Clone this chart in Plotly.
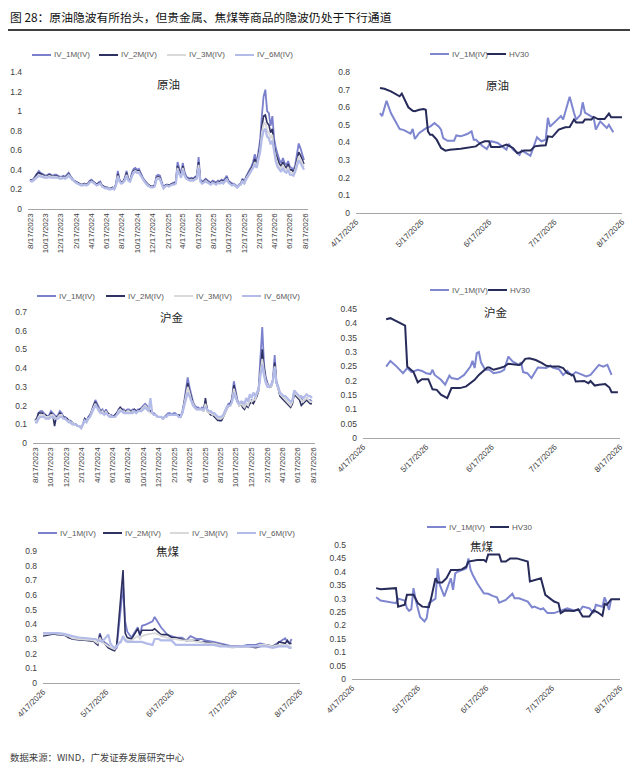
import pandas as pd
import plotly.graph_objects as go

# the page body adds an 8px margin, so the figure is drawn 8px in from the corner
OFF = 8
W, H = 630, 762

# ---------------- data ----------------
weeks = pd.date_range("2023-08-17", periods=157, freq="7D")
long_ticks = ["8/17/2023", "10/17/2023", "12/17/2023", "2/17/2024", "4/17/2024",
              "6/17/2024", "8/17/2024", "10/17/2024", "12/17/2024", "2/17/2025",
              "4/17/2025", "6/17/2025", "8/17/2025", "10/17/2025", "12/17/2025",
              "2/17/2026", "4/17/2026", "6/17/2026", "8/17/2026"]
short_ticks = ["4/17/2026", "5/17/2026", "6/17/2026", "7/17/2026", "8/17/2026"]

left_names = ["IV_1M(IV)", "IV_2M(IV)", "IV_3M(IV)", "IV_6M(IV)"]
right_names = ["IV_1M(IV)", "HV30"]

# 原油 weekly implied vol
oil_iv1m = [0.30, 0.29, 0.31, 0.34, 0.37, 0.39, 0.37, 0.36, 0.35, 0.34, 0.35, 0.36, 0.35,
            0.34, 0.35, 0.35, 0.34, 0.33, 0.33, 0.34, 0.33, 0.35, 0.37, 0.34, 0.31, 0.29,
            0.28, 0.27, 0.26, 0.25, 0.25, 0.26, 0.25, 0.26, 0.29, 0.30, 0.28, 0.26, 0.25,
            0.27, 0.28, 0.24, 0.23, 0.22, 0.22, 0.21, 0.21, 0.22, 0.21, 0.26, 0.39, 0.30,
            0.27, 0.28, 0.32, 0.39, 0.31, 0.29, 0.37, 0.41, 0.42, 0.40, 0.41, 0.36, 0.33,
            0.30, 0.27, 0.25, 0.24, 0.23, 0.23, 0.25, 0.34, 0.35, 0.34, 0.27, 0.22, 0.24,
            0.25, 0.24, 0.25, 0.26, 0.27, 0.28, 0.48, 0.40, 0.35, 0.47, 0.38, 0.33, 0.32,
            0.31, 0.32, 0.31, 0.33, 0.34, 0.53, 0.30, 0.28, 0.29, 0.31, 0.29, 0.28, 0.27,
            0.29, 0.28, 0.27, 0.29, 0.28, 0.30, 0.29, 0.31, 0.34, 0.29, 0.27, 0.26, 0.26,
            0.24, 0.23, 0.25, 0.26, 0.31, 0.27, 0.33, 0.37, 0.40, 0.43, 0.48, 0.56, 0.47,
            0.58, 0.70, 0.95, 1.15, 1.22, 1.00, 0.98, 0.85, 0.95, 0.72, 0.62, 0.55, 0.50,
            0.47, 0.52, 0.47, 0.45, 0.49, 0.43, 0.42, 0.40, 0.45, 0.55, 0.67, 0.62, 0.55, 0.50]
oil_iv2m = [0.30, 0.29, 0.30, 0.33, 0.36, 0.37, 0.36, 0.35, 0.34, 0.33, 0.34, 0.35, 0.34,
            0.33, 0.34, 0.34, 0.33, 0.32, 0.32, 0.33, 0.32, 0.34, 0.36, 0.33, 0.30, 0.29,
            0.28, 0.27, 0.26, 0.25, 0.25, 0.26, 0.25, 0.26, 0.28, 0.29, 0.28, 0.26, 0.25,
            0.26, 0.27, 0.24, 0.23, 0.22, 0.22, 0.21, 0.21, 0.22, 0.21, 0.25, 0.36, 0.29,
            0.27, 0.28, 0.31, 0.37, 0.30, 0.29, 0.35, 0.39, 0.40, 0.39, 0.39, 0.35, 0.32,
            0.29, 0.27, 0.25, 0.24, 0.23, 0.23, 0.24, 0.32, 0.33, 0.32, 0.26, 0.22, 0.24,
            0.25, 0.24, 0.25, 0.26, 0.26, 0.27, 0.44, 0.38, 0.34, 0.44, 0.36, 0.32, 0.31,
            0.30, 0.31, 0.30, 0.32, 0.33, 0.48, 0.29, 0.27, 0.28, 0.30, 0.28, 0.27, 0.26,
            0.28, 0.27, 0.26, 0.28, 0.27, 0.29, 0.28, 0.29, 0.32, 0.28, 0.26, 0.25, 0.25,
            0.23, 0.22, 0.24, 0.25, 0.30, 0.26, 0.32, 0.35, 0.38, 0.41, 0.45, 0.51, 0.45,
            0.54, 0.64, 0.84, 0.95, 0.96, 0.88, 0.86, 0.78, 0.82, 0.64, 0.56, 0.50, 0.46,
            0.44, 0.48, 0.44, 0.42, 0.46, 0.40, 0.40, 0.38, 0.42, 0.50, 0.58, 0.55, 0.50, 0.46]
oil_iv3m = [0.29, 0.28, 0.30, 0.32, 0.34, 0.35, 0.34, 0.34, 0.33, 0.33, 0.33, 0.34, 0.33,
            0.33, 0.33, 0.33, 0.32, 0.32, 0.32, 0.32, 0.32, 0.33, 0.35, 0.33, 0.30, 0.28,
            0.27, 0.26, 0.25, 0.25, 0.24, 0.25, 0.25, 0.25, 0.27, 0.28, 0.27, 0.25, 0.24,
            0.25, 0.26, 0.23, 0.22, 0.21, 0.21, 0.21, 0.20, 0.21, 0.21, 0.24, 0.34, 0.28,
            0.26, 0.27, 0.30, 0.35, 0.29, 0.28, 0.34, 0.38, 0.39, 0.38, 0.38, 0.34, 0.31,
            0.28, 0.26, 0.24, 0.23, 0.22, 0.22, 0.23, 0.31, 0.32, 0.31, 0.25, 0.21, 0.23,
            0.24, 0.23, 0.24, 0.25, 0.25, 0.26, 0.42, 0.36, 0.33, 0.42, 0.35, 0.31, 0.30,
            0.29, 0.30, 0.29, 0.31, 0.32, 0.45, 0.28, 0.26, 0.27, 0.29, 0.27, 0.26, 0.25,
            0.27, 0.26, 0.25, 0.27, 0.26, 0.28, 0.27, 0.28, 0.31, 0.27, 0.25, 0.24, 0.25,
            0.23, 0.22, 0.24, 0.25, 0.29, 0.26, 0.31, 0.34, 0.37, 0.39, 0.43, 0.48, 0.43,
            0.52, 0.60, 0.78, 0.87, 0.88, 0.80, 0.78, 0.72, 0.76, 0.60, 0.52, 0.46, 0.43,
            0.41, 0.45, 0.41, 0.39, 0.43, 0.37, 0.37, 0.36, 0.40, 0.47, 0.54, 0.51, 0.47, 0.43]
oil_iv6m = [0.29, 0.28, 0.29, 0.31, 0.33, 0.34, 0.33, 0.33, 0.32, 0.32, 0.32, 0.33, 0.32,
            0.32, 0.32, 0.32, 0.32, 0.31, 0.31, 0.32, 0.31, 0.32, 0.34, 0.32, 0.30, 0.28,
            0.27, 0.26, 0.25, 0.24, 0.24, 0.25, 0.24, 0.25, 0.27, 0.28, 0.27, 0.25, 0.24,
            0.25, 0.26, 0.23, 0.22, 0.21, 0.21, 0.20, 0.20, 0.21, 0.20, 0.24, 0.33, 0.28,
            0.26, 0.27, 0.29, 0.34, 0.29, 0.28, 0.33, 0.37, 0.38, 0.37, 0.37, 0.34, 0.31,
            0.28, 0.26, 0.24, 0.23, 0.22, 0.22, 0.23, 0.30, 0.31, 0.30, 0.25, 0.21, 0.23,
            0.24, 0.23, 0.24, 0.25, 0.25, 0.26, 0.40, 0.35, 0.32, 0.40, 0.34, 0.31, 0.30,
            0.29, 0.29, 0.29, 0.30, 0.31, 0.42, 0.28, 0.26, 0.27, 0.28, 0.27, 0.26, 0.25,
            0.27, 0.26, 0.25, 0.27, 0.26, 0.27, 0.26, 0.28, 0.30, 0.27, 0.25, 0.24, 0.25,
            0.23, 0.22, 0.24, 0.25, 0.28, 0.26, 0.30, 0.33, 0.36, 0.38, 0.42, 0.46, 0.42,
            0.50, 0.58, 0.72, 0.80, 0.82, 0.74, 0.72, 0.66, 0.70, 0.56, 0.48, 0.43, 0.40,
            0.38, 0.42, 0.38, 0.37, 0.40, 0.35, 0.35, 0.34, 0.38, 0.44, 0.50, 0.47, 0.44, 0.40]

# 沪金 weekly implied vol
gold_iv1m = [0.12, 0.13, 0.16, 0.17, 0.17, 0.16, 0.15, 0.14, 0.15, 0.17, 0.16, 0.15, 0.14,
             0.15, 0.17, 0.16, 0.14, 0.14, 0.13, 0.12, 0.12, 0.11, 0.10, 0.10, 0.09, 0.09,
             0.08, 0.10, 0.13, 0.12, 0.14, 0.15, 0.18, 0.21, 0.23, 0.21, 0.19, 0.17, 0.18,
             0.16, 0.18, 0.16, 0.15, 0.15, 0.14, 0.15, 0.16, 0.18, 0.19, 0.18, 0.18, 0.17,
             0.18, 0.18, 0.17, 0.18, 0.18, 0.17, 0.18, 0.18, 0.19, 0.20, 0.21, 0.20, 0.18,
             0.17, 0.16, 0.16, 0.15, 0.14, 0.14, 0.14, 0.13, 0.14, 0.15, 0.16, 0.16, 0.15,
             0.16, 0.16, 0.15, 0.15, 0.14, 0.17, 0.22, 0.28, 0.35, 0.30, 0.25, 0.22, 0.20,
             0.19, 0.19, 0.18, 0.19, 0.18, 0.22, 0.18, 0.17, 0.16, 0.16, 0.15, 0.14, 0.13,
             0.12, 0.12, 0.14, 0.17, 0.19, 0.21, 0.21, 0.24, 0.33, 0.27, 0.23, 0.21, 0.22,
             0.20, 0.19, 0.21, 0.20, 0.22, 0.23, 0.22, 0.24, 0.26, 0.30, 0.45, 0.62, 0.42,
             0.35, 0.32, 0.30, 0.31, 0.34, 0.47, 0.33, 0.30, 0.26, 0.25, 0.24, 0.23, 0.22,
             0.21, 0.20, 0.22, 0.28, 0.26, 0.25, 0.24, 0.24, 0.22, 0.23, 0.24, 0.23, 0.23, 0.22]
gold_iv2m = [0.12, 0.13, 0.16, 0.16, 0.16, 0.15, 0.15, 0.14, 0.14, 0.16, 0.15, 0.09, 0.14,
             0.14, 0.16, 0.15, 0.14, 0.13, 0.13, 0.12, 0.11, 0.11, 0.10, 0.10, 0.09, 0.09,
             0.08, 0.10, 0.13, 0.12, 0.13, 0.15, 0.17, 0.20, 0.22, 0.20, 0.18, 0.17, 0.17,
             0.16, 0.17, 0.16, 0.15, 0.14, 0.14, 0.15, 0.16, 0.17, 0.19, 0.18, 0.17, 0.17,
             0.17, 0.17, 0.17, 0.17, 0.18, 0.17, 0.17, 0.18, 0.18, 0.19, 0.20, 0.19, 0.18,
             0.17, 0.16, 0.15, 0.15, 0.14, 0.14, 0.14, 0.13, 0.14, 0.14, 0.15, 0.15, 0.15,
             0.15, 0.15, 0.15, 0.15, 0.14, 0.16, 0.21, 0.26, 0.32, 0.28, 0.24, 0.21, 0.19,
             0.18, 0.18, 0.18, 0.18, 0.17, 0.24, 0.17, 0.16, 0.15, 0.15, 0.14, 0.13, 0.12,
             0.12, 0.12, 0.14, 0.16, 0.18, 0.20, 0.21, 0.23, 0.31, 0.26, 0.22, 0.20, 0.21,
             0.19, 0.18, 0.20, 0.19, 0.21, 0.22, 0.21, 0.23, 0.25, 0.28, 0.40, 0.50, 0.40,
             0.34, 0.31, 0.30, 0.30, 0.33, 0.43, 0.32, 0.29, 0.25, 0.24, 0.23, 0.22, 0.21,
             0.20, 0.19, 0.21, 0.26, 0.25, 0.24, 0.23, 0.20, 0.21, 0.22, 0.23, 0.22, 0.21, 0.21]
gold_iv3m = [0.12, 0.12, 0.14, 0.15, 0.15, 0.15, 0.14, 0.14, 0.14, 0.15, 0.15, 0.14, 0.13,
             0.14, 0.15, 0.15, 0.13, 0.13, 0.12, 0.12, 0.11, 0.11, 0.10, 0.10, 0.09, 0.09,
             0.08, 0.10, 0.12, 0.12, 0.13, 0.14, 0.17, 0.19, 0.21, 0.19, 0.18, 0.16, 0.17,
             0.15, 0.17, 0.15, 0.15, 0.14, 0.14, 0.14, 0.15, 0.17, 0.18, 0.17, 0.17, 0.16,
             0.17, 0.17, 0.16, 0.17, 0.17, 0.16, 0.17, 0.17, 0.18, 0.19, 0.20, 0.19, 0.17,
             0.16, 0.16, 0.15, 0.15, 0.14, 0.14, 0.14, 0.13, 0.14, 0.14, 0.15, 0.15, 0.15,
             0.15, 0.15, 0.15, 0.14, 0.14, 0.16, 0.21, 0.25, 0.30, 0.27, 0.23, 0.21, 0.19,
             0.18, 0.18, 0.18, 0.18, 0.17, 0.21, 0.17, 0.16, 0.16, 0.15, 0.15, 0.14, 0.13,
             0.13, 0.13, 0.14, 0.16, 0.18, 0.20, 0.20, 0.22, 0.29, 0.25, 0.22, 0.20, 0.21,
             0.20, 0.19, 0.21, 0.20, 0.23, 0.22, 0.23, 0.23, 0.26, 0.28, 0.38, 0.45, 0.38,
             0.33, 0.31, 0.30, 0.30, 0.33, 0.41, 0.32, 0.29, 0.26, 0.25, 0.24, 0.23, 0.22,
             0.21, 0.20, 0.22, 0.27, 0.26, 0.25, 0.24, 0.23, 0.22, 0.23, 0.24, 0.23, 0.22, 0.22]
gold_iv6m = [0.11, 0.11, 0.13, 0.14, 0.14, 0.14, 0.13, 0.13, 0.13, 0.14, 0.14, 0.13, 0.13,
             0.13, 0.14, 0.14, 0.13, 0.13, 0.12, 0.11, 0.11, 0.10, 0.10, 0.10, 0.09, 0.09,
             0.08, 0.10, 0.12, 0.11, 0.13, 0.14, 0.16, 0.18, 0.20, 0.19, 0.17, 0.16, 0.16,
             0.15, 0.16, 0.15, 0.14, 0.14, 0.14, 0.14, 0.15, 0.16, 0.17, 0.17, 0.16, 0.16,
             0.16, 0.16, 0.16, 0.16, 0.17, 0.16, 0.17, 0.17, 0.17, 0.18, 0.19, 0.18, 0.17,
             0.24, 0.16, 0.15, 0.15, 0.14, 0.14, 0.14, 0.13, 0.14, 0.14, 0.15, 0.15, 0.15,
             0.15, 0.15, 0.15, 0.14, 0.14, 0.16, 0.20, 0.24, 0.27, 0.25, 0.22, 0.20, 0.19,
             0.18, 0.18, 0.18, 0.18, 0.18, 0.19, 0.18, 0.17, 0.17, 0.16, 0.16, 0.15, 0.14,
             0.14, 0.14, 0.15, 0.17, 0.19, 0.20, 0.20, 0.22, 0.27, 0.24, 0.22, 0.21, 0.22,
             0.22, 0.21, 0.24, 0.22, 0.26, 0.24, 0.27, 0.25, 0.27, 0.29, 0.36, 0.42, 0.36,
             0.32, 0.30, 0.30, 0.31, 0.33, 0.40, 0.32, 0.30, 0.27, 0.26, 0.25, 0.25, 0.24,
             0.23, 0.22, 0.23, 0.28, 0.27, 0.26, 0.25, 0.25, 0.24, 0.25, 0.26, 0.25, 0.25, 0.24]

# 焦煤 implied vol, Apr-Aug 2026
coal_dates = ["2026-04-17", "2026-04-20", "2026-04-22", "2026-04-24", "2026-04-27", "2026-04-29",
              "2026-05-01", "2026-05-04", "2026-05-06", "2026-05-08", "2026-05-11", "2026-05-12",
              "2026-05-13", "2026-05-14", "2026-05-15", "2026-05-18", "2026-05-19", "2026-05-20",
              "2026-05-21", "2026-05-22", "2026-05-23", "2026-05-24", "2026-05-25", "2026-05-26",
              "2026-05-27", "2026-05-29", "2026-06-01", "2026-06-02", "2026-06-03", "2026-06-05",
              "2026-06-08", "2026-06-09", "2026-06-11", "2026-06-12", "2026-06-15", "2026-06-17",
              "2026-06-19", "2026-06-22", "2026-06-24", "2026-06-26", "2026-06-29", "2026-07-01",
              "2026-07-03", "2026-07-07", "2026-07-10", "2026-07-14", "2026-07-16", "2026-07-20",
              "2026-07-23", "2026-07-27", "2026-07-29", "2026-08-01", "2026-08-04", "2026-08-06",
              "2026-08-07", "2026-08-10", "2026-08-11", "2026-08-12", "2026-08-13"]
coal_iv1m = [0.33, 0.34, 0.34, 0.335, 0.33, 0.32, 0.30, 0.30, 0.295, 0.29,
             0.29, 0.27, 0.26, 0.34, 0.29, 0.26, 0.24, 0.23, 0.225, 0.24,
             0.38, 0.52, 0.66, 0.42, 0.35, 0.31, 0.38, 0.32, 0.39, 0.40,
             0.42, 0.45, 0.40, 0.38, 0.33, 0.32, 0.31, 0.31, 0.29, 0.32,
             0.30, 0.30, 0.29, 0.28, 0.27, 0.26, 0.25, 0.25, 0.26, 0.26,
             0.27, 0.26, 0.25, 0.27, 0.28, 0.305, 0.28, 0.27, 0.30]
coal_iv2m = [0.32, 0.33, 0.335, 0.33, 0.33, 0.31, 0.30, 0.295, 0.29, 0.29,
             0.285, 0.27, 0.26, 0.33, 0.29, 0.24, 0.23, 0.225, 0.22, 0.26,
             0.43, 0.60, 0.77, 0.34, 0.31, 0.30, 0.37, 0.33, 0.36, 0.36,
             0.36, 0.37, 0.34, 0.33, 0.33, 0.31, 0.31, 0.30, 0.29, 0.29,
             0.29, 0.28, 0.28, 0.27, 0.26, 0.25, 0.25, 0.25, 0.25, 0.24,
             0.25, 0.26, 0.25, 0.26, 0.28, 0.27, 0.29, 0.27, 0.27]
coal_iv3m = [0.33, 0.335, 0.34, 0.335, 0.33, 0.32, 0.305, 0.30, 0.30, 0.295,
             0.29, 0.28, 0.27, 0.31, 0.28, 0.25, 0.24, 0.235, 0.23, 0.25,
             0.27, 0.29, 0.31, 0.30, 0.29, 0.29, 0.32, 0.30, 0.32, 0.33,
             0.34, 0.34, 0.33, 0.32, 0.31, 0.30, 0.30, 0.29, 0.29, 0.29,
             0.28, 0.28, 0.27, 0.27, 0.26, 0.25, 0.24, 0.25, 0.25, 0.25,
             0.26, 0.26, 0.25, 0.26, 0.26, 0.26, 0.26, 0.25, 0.25]
coal_iv6m = [0.34, 0.34, 0.345, 0.34, 0.335, 0.33, 0.32, 0.31, 0.31, 0.305,
             0.30, 0.30, 0.29, 0.29, 0.28, 0.33, 0.27, 0.25, 0.24, 0.25,
             0.27, 0.28, 0.32, 0.29, 0.28, 0.28, 0.28, 0.28, 0.28, 0.27,
             0.26, 0.30, 0.30, 0.29, 0.29, 0.29, 0.26, 0.26, 0.26, 0.26,
             0.26, 0.26, 0.255, 0.26, 0.25, 0.25, 0.25, 0.25, 0.25, 0.25,
             0.25, 0.25, 0.24, 0.25, 0.25, 0.25, 0.25, 0.24, 0.24]

# right column: IV_1M vs HV30
oil_iv_dates = ["2026-04-28", "2026-04-29", "2026-05-01", "2026-05-03", "2026-05-07", "2026-05-09",
                "2026-05-12", "2026-05-13", "2026-05-14", "2026-05-16", "2026-05-19", "2026-05-21",
                "2026-05-23", "2026-05-25", "2026-05-26", "2026-05-27", "2026-05-29", "2026-06-01",
                "2026-06-02", "2026-06-04", "2026-06-07", "2026-06-09", "2026-06-10", "2026-06-11",
                "2026-06-14", "2026-06-16", "2026-06-18", "2026-06-21", "2026-06-23", "2026-06-25",
                "2026-06-26", "2026-06-28", "2026-07-01", "2026-07-02", "2026-07-04", "2026-07-06",
                "2026-07-09", "2026-07-11", "2026-07-13", "2026-07-14", "2026-07-15", "2026-07-18",
                "2026-07-20", "2026-07-21", "2026-07-24", "2026-07-26", "2026-07-27", "2026-07-29",
                "2026-07-30", "2026-07-31", "2026-08-02", "2026-08-04", "2026-08-05", "2026-08-07",
                "2026-08-10", "2026-08-11", "2026-08-13"]
oil_iv_vals = [0.567, 0.55, 0.637, 0.567, 0.477, 0.47, 0.45, 0.477, 0.42, 0.454,
               0.48, 0.49, 0.51, 0.49, 0.473, 0.425, 0.41, 0.41, 0.44, 0.435,
               0.448, 0.463, 0.416, 0.416, 0.38, 0.363, 0.407, 0.397, 0.378, 0.36,
               0.393, 0.36, 0.33, 0.355, 0.34, 0.325, 0.43, 0.407, 0.416, 0.54,
               0.49, 0.526, 0.55, 0.53, 0.66, 0.567, 0.53, 0.558, 0.628, 0.57,
               0.554, 0.54, 0.473, 0.52, 0.482, 0.50, 0.458]
oil_hv_dates = ["2026-04-28", "2026-04-30", "2026-05-03", "2026-05-07", "2026-05-08", "2026-05-11",
                "2026-05-13", "2026-05-14", "2026-05-16", "2026-05-18", "2026-05-19", "2026-05-20",
                "2026-05-21", "2026-05-22", "2026-05-24", "2026-05-26", "2026-05-28", "2026-05-30",
                "2026-06-04", "2026-06-08", "2026-06-11", "2026-06-13", "2026-06-15", "2026-06-17",
                "2026-06-18", "2026-06-22", "2026-06-23", "2026-06-25", "2026-06-28", "2026-06-30",
                "2026-07-01", "2026-07-03", "2026-07-06", "2026-07-08", "2026-07-10", "2026-07-13",
                "2026-07-14", "2026-07-16", "2026-07-19", "2026-07-22", "2026-07-24", "2026-07-26",
                "2026-07-27", "2026-07-30", "2026-07-31", "2026-08-03", "2026-08-04", "2026-08-06",
                "2026-08-09", "2026-08-11", "2026-08-12", "2026-08-17"]
oil_hv_vals = [0.709, 0.705, 0.69, 0.662, 0.677, 0.60, 0.58, 0.577, 0.586, 0.59,
               0.586, 0.463, 0.444, 0.444, 0.416, 0.369, 0.354, 0.359, 0.365, 0.374,
               0.378, 0.397, 0.407, 0.407, 0.374, 0.374, 0.378, 0.388, 0.369, 0.34,
               0.344, 0.354, 0.354, 0.378, 0.382, 0.384, 0.435, 0.431, 0.473, 0.486,
               0.488, 0.53, 0.514, 0.514, 0.53, 0.53, 0.545, 0.533, 0.533, 0.564,
               0.543, 0.543]

gold_iv_dates = ["2026-04-28", "2026-04-30", "2026-05-03", "2026-05-06", "2026-05-08", "2026-05-10",
                 "2026-05-13", "2026-05-15", "2026-05-17", "2026-05-19", "2026-05-20", "2026-05-21",
                 "2026-05-24", "2026-05-26", "2026-05-28", "2026-05-29", "2026-06-01", "2026-06-03",
                 "2026-06-04", "2026-06-07", "2026-06-08", "2026-06-09", "2026-06-10", "2026-06-11",
                 "2026-06-12", "2026-06-14", "2026-06-16", "2026-06-18", "2026-06-21", "2026-06-23",
                 "2026-06-25", "2026-06-27", "2026-06-30", "2026-07-01", "2026-07-02", "2026-07-04",
                 "2026-07-06", "2026-07-09", "2026-07-11", "2026-07-13", "2026-07-15", "2026-07-16",
                 "2026-07-19", "2026-07-21", "2026-07-23", "2026-07-25", "2026-07-27", "2026-08-01",
                 "2026-08-03", "2026-08-07", "2026-08-09", "2026-08-11", "2026-08-13"]
gold_iv_vals = [0.249, 0.269, 0.249, 0.226, 0.244, 0.23, 0.238, 0.234, 0.226, 0.223,
                0.238, 0.22, 0.203, 0.186, 0.218, 0.209, 0.205, 0.215, 0.22, 0.249,
                0.269, 0.244, 0.296, 0.30, 0.264, 0.238, 0.238, 0.226, 0.23, 0.238,
                0.284, 0.267, 0.255, 0.264, 0.23, 0.226, 0.209, 0.246, 0.246, 0.244,
                0.253, 0.246, 0.24, 0.22, 0.234, 0.218, 0.23, 0.215, 0.22, 0.255,
                0.249, 0.255, 0.22]
gold_hv_dates = ["2026-04-28", "2026-04-30", "2026-05-07", "2026-05-08", "2026-05-11", "2026-05-13",
                 "2026-05-15", "2026-05-18", "2026-05-20", "2026-05-22", "2026-05-24", "2026-05-27",
                 "2026-05-29", "2026-06-02", "2026-06-05", "2026-06-08", "2026-06-09", "2026-06-11",
                 "2026-06-15", "2026-06-16", "2026-06-18", "2026-06-21", "2026-06-23", "2026-06-25",
                 "2026-06-30", "2026-07-01", "2026-07-03", "2026-07-05", "2026-07-08", "2026-07-11",
                 "2026-07-13", "2026-07-16", "2026-07-19", "2026-07-21", "2026-07-23", "2026-07-26",
                 "2026-07-27", "2026-07-31", "2026-08-02", "2026-08-03", "2026-08-05", "2026-08-07",
                 "2026-08-10", "2026-08-12", "2026-08-13", "2026-08-16"]
gold_hv_vals = [0.414, 0.418, 0.392, 0.249, 0.23, 0.194, 0.205, 0.205, 0.17, 0.168,
                0.151, 0.139, 0.174, 0.174, 0.18, 0.197, 0.203, 0.22, 0.246, 0.246,
                0.238, 0.244, 0.249, 0.259, 0.255, 0.257, 0.276, 0.278, 0.272, 0.261,
                0.252, 0.249, 0.249, 0.244, 0.226, 0.218, 0.197, 0.199, 0.191, 0.199,
                0.183, 0.186, 0.188, 0.176, 0.16, 0.16]

coal_iv_dates = ["2026-04-28", "2026-04-29", "2026-04-30", "2026-05-07", "2026-05-08", "2026-05-11",
                 "2026-05-12", "2026-05-13", "2026-05-14", "2026-05-15", "2026-05-16", "2026-05-18",
                 "2026-05-20", "2026-05-21", "2026-05-22", "2026-05-25", "2026-05-26", "2026-05-27",
                 "2026-05-29", "2026-06-01", "2026-06-02", "2026-06-03", "2026-06-04", "2026-06-07",
                 "2026-06-08", "2026-06-09", "2026-06-10", "2026-06-11", "2026-06-13", "2026-06-16",
                 "2026-06-18", "2026-06-20", "2026-06-22", "2026-06-23", "2026-06-25", "2026-06-26",
                 "2026-06-29", "2026-06-30", "2026-07-02", "2026-07-06", "2026-07-08", "2026-07-09",
                 "2026-07-12", "2026-07-13", "2026-07-15", "2026-07-18", "2026-07-22", "2026-07-24",
                 "2026-07-27", "2026-07-30", "2026-07-31", "2026-08-03", "2026-08-05", "2026-08-06",
                 "2026-08-09", "2026-08-10", "2026-08-11", "2026-08-12", "2026-08-13"]
coal_iv_vals = [0.305, 0.30, 0.293, 0.283, 0.30, 0.293, 0.264, 0.254, 0.26, 0.339,
                0.295, 0.231, 0.215, 0.227, 0.283, 0.30, 0.413, 0.351, 0.308, 0.376,
                0.333, 0.394, 0.40, 0.409, 0.413, 0.45, 0.407, 0.388, 0.357, 0.32,
                0.318, 0.31, 0.305, 0.285, 0.293, 0.295, 0.318, 0.301, 0.301, 0.289,
                0.267, 0.27, 0.26, 0.264, 0.246, 0.246, 0.258, 0.264, 0.256, 0.258,
                0.27, 0.264, 0.246, 0.277, 0.27, 0.305, 0.283, 0.258, 0.298]
coal_hv_dates = ["2026-04-28", "2026-04-30", "2026-05-07", "2026-05-08", "2026-05-11", "2026-05-12",
                 "2026-05-15", "2026-05-17", "2026-05-19", "2026-05-22", "2026-05-23", "2026-05-25",
                 "2026-05-26", "2026-05-28", "2026-05-30", "2026-06-01", "2026-06-04", "2026-06-06",
                 "2026-06-08", "2026-06-09", "2026-06-13", "2026-06-16", "2026-06-17", "2026-06-18",
                 "2026-06-23", "2026-06-24", "2026-06-26", "2026-06-28", "2026-07-01", "2026-07-06",
                 "2026-07-07", "2026-07-12", "2026-07-14", "2026-07-16", "2026-07-18", "2026-07-20",
                 "2026-07-21", "2026-07-23", "2026-07-27", "2026-07-29", "2026-07-31", "2026-08-03",
                 "2026-08-05", "2026-08-07", "2026-08-09", "2026-08-10", "2026-08-11", "2026-08-13",
                 "2026-08-17"]
coal_hv_vals = [0.339, 0.335, 0.339, 0.27, 0.277, 0.314, 0.314, 0.283, 0.27, 0.268,
                0.30, 0.376, 0.36, 0.36, 0.376, 0.407, 0.407, 0.409, 0.419, 0.438,
                0.444, 0.444, 0.438, 0.465, 0.465, 0.438, 0.438, 0.45, 0.45, 0.438,
                0.364, 0.376, 0.314, 0.30, 0.289, 0.283, 0.246, 0.256, 0.254, 0.26,
                0.233, 0.233, 0.256, 0.248, 0.236, 0.28, 0.277, 0.298, 0.298]

# ---------------- style ----------------
left_colors = ["#7b80cc", "#2e3162", "#d9d9d9", "#b3bbe8"]
left_widths = [1.8, 1.6, 1.8, 2.2]
right_colors = ["#7e86d0", "#272b5a"]
FONT = "Liberation Sans, Arial, Noto Sans CJK SC"
CJK = "Noto Sans CJK SC, Liberation Sans"


def px_x(p):
    # page pixel -> paper fraction
    return (p - OFF) / W


def px_y(p):
    return 1 - (p - OFF) / H


fig = go.Figure()

left_panels = [
    ("x", "y", weeks, [oil_iv1m, oil_iv2m, oil_iv3m, oil_iv6m]),
    ("x3", "y3", weeks, [gold_iv1m, gold_iv2m, gold_iv3m, gold_iv6m]),
    ("x5", "y5", pd.to_datetime(coal_dates), [coal_iv1m, coal_iv2m, coal_iv3m, coal_iv6m]),
]
for xa, ya, xs, series in left_panels:
    for name, col, lw, vals in zip(left_names, left_colors, left_widths, series):
        fig.add_trace(go.Scatter(x=xs[:len(vals)], y=vals, name=name, mode="lines",
                                 line=dict(color=col, width=lw), xaxis=xa, yaxis=ya,
                                 showlegend=False))

right_panels = [
    ("x2", "y2", (oil_iv_dates, oil_iv_vals), (oil_hv_dates, oil_hv_vals)),
    ("x4", "y4", (gold_iv_dates, gold_iv_vals), (gold_hv_dates, gold_hv_vals)),
    ("x6", "y6", (coal_iv_dates, coal_iv_vals), (coal_hv_dates, coal_hv_vals)),
]
for xa, ya, iv, hv in right_panels:
    for name, col, (d, v) in zip(right_names, right_colors, [iv, hv]):
        fig.add_trace(go.Scatter(x=pd.to_datetime(d), y=v, name=name, mode="lines",
                                 line=dict(color=col, width=2), xaxis=xa, yaxis=ya,
                                 showlegend=False))

long_vals = pd.to_datetime(long_ticks, format="%m/%d/%Y")
short_vals = pd.to_datetime(short_ticks, format="%m/%d/%Y")

xbase = dict(type="date", showgrid=False, zeroline=False, showline=True,
             linecolor="#a6a6a6", linewidth=1.2, ticks="",
             tickfont=dict(family=FONT, size=8, color="#404040"))
ybase = dict(showgrid=False, zeroline=False, showline=False, ticks="",
             ticklabelstandoff=5, tickfont=dict(family=FONT, size=8.5, color="#404040"))

# (x0, x1, y_bottom, y_top) in page pixels, y range, dtick, x range, ticks
axes = [
    ("", (28, 308, 209, 72), [0, 1.4], 0.2, ["2023-08-09", "2026-08-29"], long_vals, long_ticks, -90),
    ("2", (356, 622, 213, 72), [0, 0.8], 0.1, ["2026-04-17", "2026-08-17"], short_vals, short_ticks, -45),
    ("3", (33, 315, 443, 312), [0, 0.7], 0.1, ["2023-08-09", "2026-08-25"], long_vals, long_ticks, -90),
    ("4", (363, 620, 438, 309), [0, 0.45], 0.05, ["2026-04-17", "2026-08-17"], short_vals, short_ticks, -45),
    ("5", (43, 300, 683, 551), [0, 0.9], 0.1, ["2026-04-17", "2026-08-17"], short_vals, short_ticks, -45),
    ("6", (352, 620, 679, 545), [0, 0.5], 0.05, ["2026-04-17", "2026-08-17"], short_vals, short_ticks, -45),
]
lay = {}
for k, (x0, x1, yb, yt), yr, dt, xr, tv, tt, ang in axes:
    lay["xaxis" + k] = dict(xbase, domain=[px_x(x0), px_x(x1)], anchor="y" + k,
                            range=xr, tickvals=tv, ticktext=tt, tickangle=ang)
    lay["yaxis" + k] = dict(ybase, domain=[px_y(yb), px_y(yt)], anchor="x" + k,
                            range=yr, dtick=dt)


def note(text, x, y, size, color, family=CJK, anchor="left"):
    return dict(text=text, xref="paper", yref="paper", x=px_x(x), y=px_y(y),
                xanchor=anchor, yanchor="middle", showarrow=False,
                font=dict(family=family, size=size, color=color))


annotations = [
    note("图 28：原油隐波有所抬头，但贵金属、焦煤等商品的隐波仍处于下行通道", 8, 17, 11.8, "#111111"),
    note("数据来源：WIND，广发证券发展研究中心", 8, 757, 9.4, "#404040"),
]
for txt, cx, cy in [("原油", 168, 84), ("原油", 497, 85), ("沪金", 172, 317),
                    ("沪金", 496, 312), ("焦煤", 168, 551), ("焦煤", 482, 546)]:
    annotations.append(note(txt, cx, cy, 11.5, "#262626", anchor="center"))

shapes = [dict(type="line", xref="paper", yref="paper", x0=0, x1=1,
               y0=px_y(30), y1=px_y(30), line=dict(color="#000000", width=1.5))]

# hand-placed legends (short line keys like the original)
legend_rows = [
    (55, [32, 99, 167, 235], left_names, left_colors),
    (296, [37, 106, 174, 242], left_names, left_colors),
    (533, [38, 103, 170, 237], left_names, left_colors),
    (54, [430, 487], right_names, right_colors),
    (290, [430, 488], right_names, right_colors),
    (527, [427, 490], right_names, right_colors),
]
for ly, xs, names, cols in legend_rows:
    for lx, name, col in zip(xs, names, cols):
        shapes.append(dict(type="line", xref="paper", yref="paper",
                           x0=px_x(lx), x1=px_x(lx + 19), y0=px_y(ly), y1=px_y(ly),
                           line=dict(color=col, width=2)))
        annotations.append(note(name, lx + 20, ly, 8, "#595959", family=FONT))

fig.update_layout(width=W, height=H,
                  margin=dict(l=0, r=0, t=0, b=0, pad=0, autoexpand=False),
                  paper_bgcolor="white", plot_bgcolor="white",
                  annotations=annotations, shapes=shapes, showlegend=False, **lay)

fig.write_html("out.html")
